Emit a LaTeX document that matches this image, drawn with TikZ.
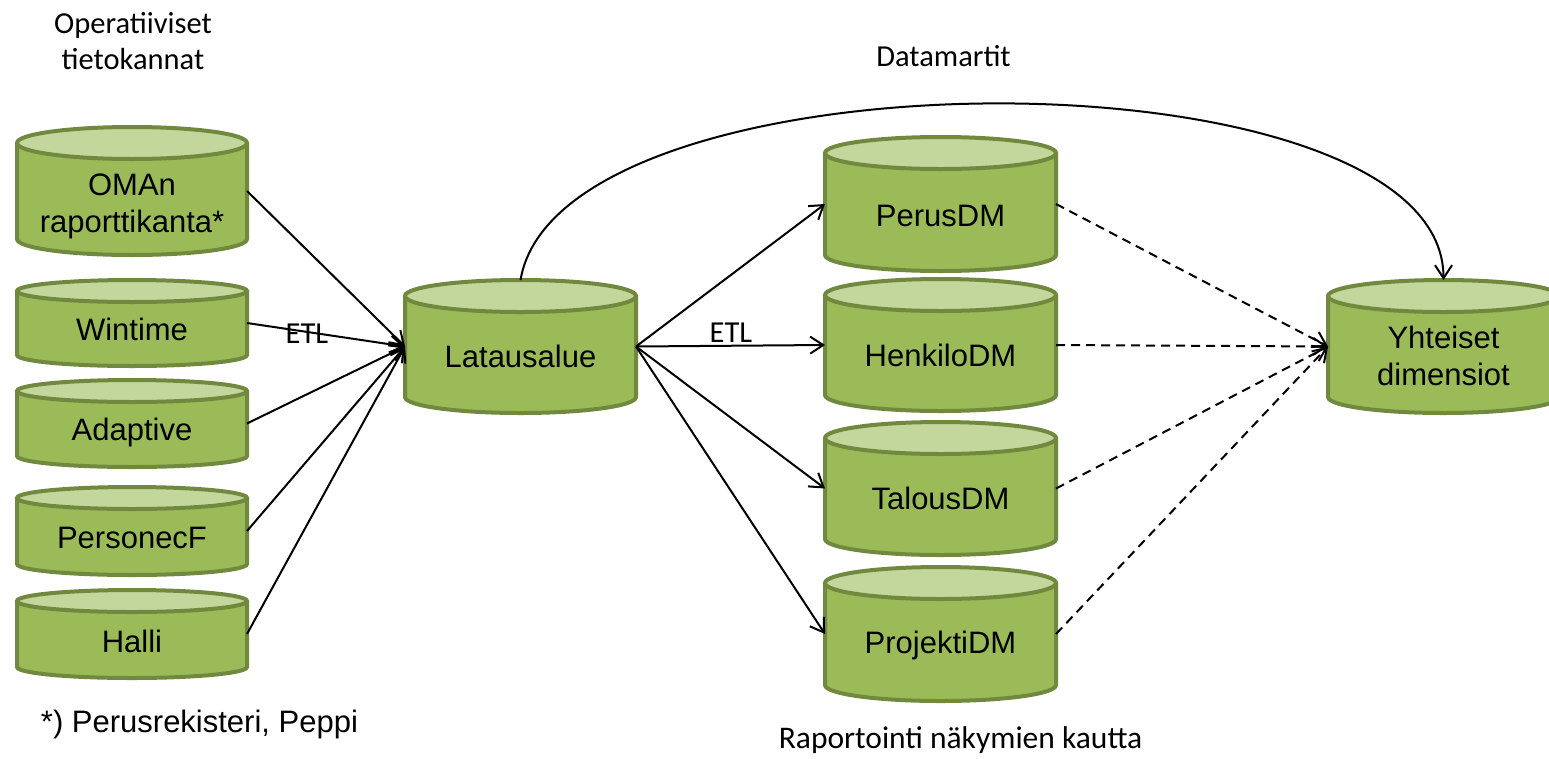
\documentclass[tikz,border=0pt]{standalone}
\usepackage{fontspec}
\setmainfont{Liberation Sans}
\newfontfamily\lblfont{Carlito}
\usetikzlibrary{arrows.meta}
\definecolor{cylbody}{HTML}{9BBB59}
\definecolor{cyltop}{HTML}{C3D69B}
\definecolor{cyledge}{HTML}{71893F}
\tikzset{
  cylbox/.style={inner sep=0pt, outer sep=0pt, draw=none},
  cyltext/.style={font=\fontsize{31}{37}\selectfont, align=center, inner sep=0pt},
  lbl/.style={font=\lblfont\fontsize{30.5}{36}\selectfont, align=center, inner sep=0pt},
  flow/.style={line width=2pt, -{Straight Barb[length=13pt,width=17pt,line width=2pt]}},
  link/.style={flow, dash pattern=on 9pt off 6pt},
}
\newcommand\dbcyl[6]{%
  \node[cylbox, minimum width=#4pt, minimum height=#5pt] (#1) at (#2,#3) {};
  \fill[cylbody] ([yshift=-#6pt]#1.north west) -- ([yshift=#6pt]#1.south west)
     arc[start angle=180, end angle=360, x radius=#4*0.5pt, y radius=#6pt]
     -- ([yshift=-#6pt]#1.north east) -- cycle;
  \draw[cyledge, line width=4pt, line join=round] ([yshift=-#6pt]#1.north west) -- ([yshift=#6pt]#1.south west)
     arc[start angle=180, end angle=360, x radius=#4*0.5pt, y radius=#6pt]
     -- ([yshift=-#6pt]#1.north east);
  \draw[cyledge, line width=4pt, fill=cyltop] ([yshift=-#6pt]#1.north) ellipse[x radius=#4*0.5pt, y radius=#6pt];
}
\begin{document}
\begin{tikzpicture}[x=1pt, y=-1pt]
\useasboundingbox (0,0) rectangle (1549,758);
\dbcyl{oman}{132}{191}{230}{128}{16}
\dbcyl{win}{132}{323}{230}{86}{11}
\dbcyl{ada}{132}{423.5}{230}{87}{11}
\dbcyl{per}{132}{531}{230}{88}{11}
\dbcyl{hal}{132}{634}{230}{88}{11}
\dbcyl{lat}{520.5}{346.5}{231}{133}{16}
\dbcyl{perus}{940.5}{204}{231}{134}{16}
\dbcyl{henk}{940.5}{345}{231}{132}{16}
\dbcyl{tal}{940.5}{488.5}{231}{133}{16}
\dbcyl{proj}{940.5}{634}{231}{134}{16}
\dbcyl{yht}{1443.5}{346.5}{231}{133}{16}

\node[cyltext] (oman-t) at ([yshift=-15pt]oman.center) {OMAn\\raporttikanta*};
\node[cyltext, anchor=base] (win-t) at ([yshift=-17pt]win.center) {Wintime};
\node[cyltext, anchor=base] (ada-t) at ([yshift=-16.5pt]ada.center) {Adaptive};
\node[cyltext, anchor=base] (per-t) at ([yshift=-17pt]per.center) {PersonecF};
\node[cyltext, anchor=base] (hal-t) at ([yshift=-18pt]hal.center) {Halli};
\node[cyltext, anchor=base] (lat-t) at ([yshift=-20.5pt]lat.center) {Latausalue};
\node[cyltext, anchor=base] (perus-t) at ([yshift=-22pt]perus.center) {PerusDM};
\node[cyltext, anchor=base] (henk-t) at ([yshift=-21pt]henk.center) {HenkiloDM};
\node[cyltext, anchor=base] (tal-t) at ([yshift=-21pt]tal.center) {TalousDM};
\node[cyltext, anchor=base] (proj-t) at ([yshift=-19.5pt]proj.center) {ProjektiDM};
\node[cyltext] (yht-t) at ([yshift=-9pt]yht.center) {Yhteiset\\dimensiot};

\node[lbl] (ops) at (133,41) {Operatiiviset\\tietokannat};
\node[lbl, anchor=base] (dmt) at (943.5,66) {Datamartit};
\node[lbl, anchor=base, font=\lblfont\fontsize{31.5}{36}\selectfont] (rap) at (960.5,748) {Raportointi näkymien kautta};
\node[cyltext, anchor=base] (note) at (199.5,732) {*) Perusrekisteri, Peppi};
\node[lbl, anchor=base] (etl1) at (307,343) {ETL};
\node[lbl, anchor=base] (etl2) at (731,342) {ETL};

\draw[flow] (oman.east) -- (lat.west);
\draw[flow] (win.east) -- (lat.west);
\draw[flow] (ada.east) -- (lat.west);
\draw[flow] (per.east) -- (lat.west);
\draw[flow] (hal.east) -- (lat.west);
\draw[flow] (lat.east) -- (perus.west);
\draw[flow] (lat.east) -- (henk.west);
\draw[flow] (lat.east) -- (tal.west);
\draw[flow] (lat.east) -- (proj.west);
\draw[link] (perus.east) -- (yht.west);
\draw[link] (henk.east) -- (yht.west);
\draw[link] (tal.east) -- (yht.west);
\draw[link] (proj.east) -- (yht.west);
\draw[flow] (lat.north) .. controls (560,45) and (1443.5,45) .. (yht.north);
\end{tikzpicture}
\end{document}
